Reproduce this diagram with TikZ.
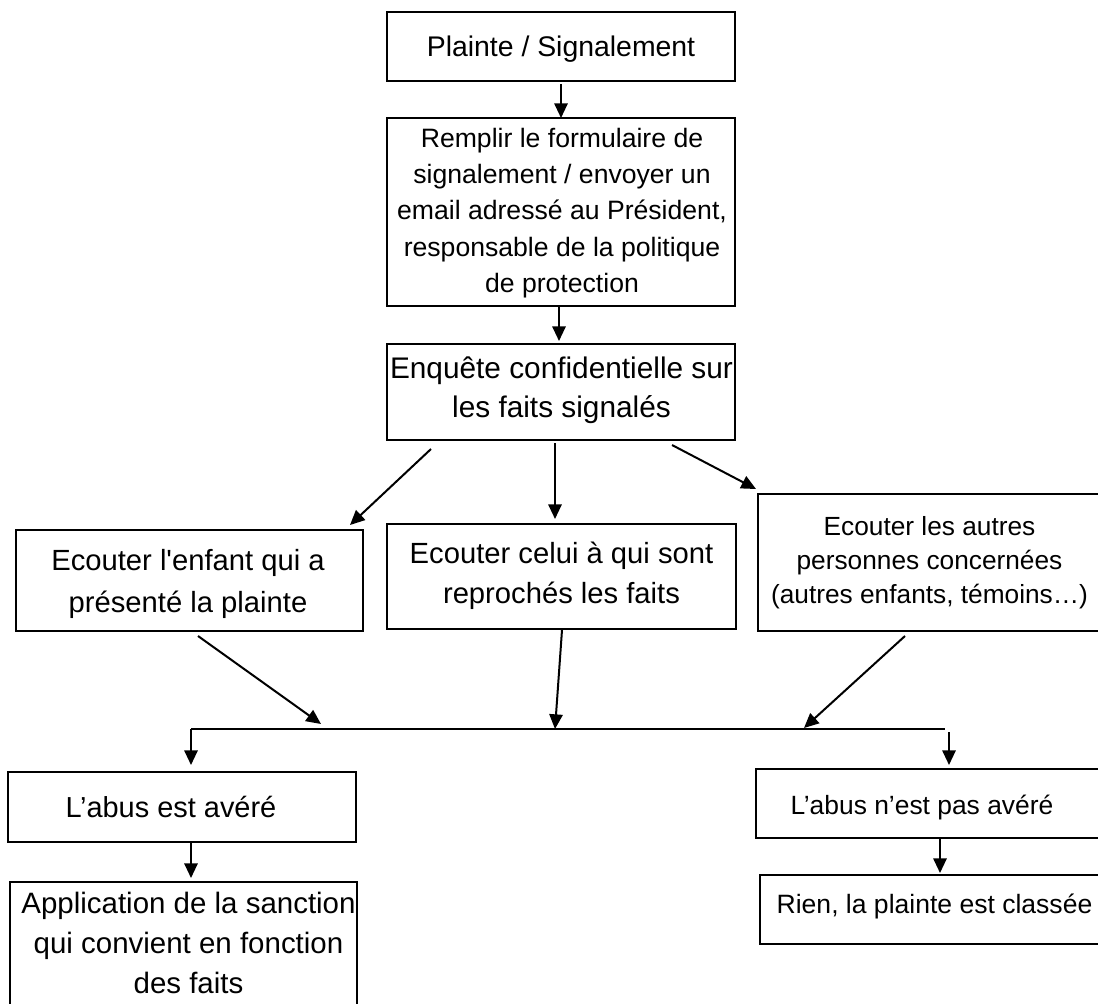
\documentclass[tikz,border=0pt]{standalone}
\usepackage{fontspec}
\setmainfont{Liberation Sans}
\usetikzlibrary{arrows.meta,fit}
\begin{document}
\begin{tikzpicture}[x=0.75pt,y=-0.75pt,
  box/.style={draw=black, line width=1.3pt, inner sep=0pt},
  txt/.style={inner sep=0pt, anchor=north, align=center},
  arr/.style={line width=1.5pt, -{Triangle[length=11pt,width=10pt]}},
  ln/.style={line width=1.5pt}]
\useasboundingbox (0,0) rectangle (1098,1003);
\clip (0,0) rectangle (1098,1003);
% boxes
\node[box, fit={(387,12)(735,81)}] (b1) {};
\node[box, fit={(387,118)(735,306)}] (b2) {};
\node[box, fit={(387,344)(735,440)}] (b3) {};
\node[box, fit={(16,530)(363,631)}] (b4) {};
\node[box, fit={(387,524)(736,629)}] (b5) {};
\node[box, fit={(758,494)(1110,631)}] (b6) {};
\node[box, fit={(8,772)(356,842)}] (b7) {};
\node[box, fit={(10,882)(357,1012)}] (b8) {};
\node[box, fit={(756,769)(1110,838)}] (b9) {};
\node[box, fit={(760,875)(1110,944)}] (b10) {};
% texts
\node[txt, font=\fontsize{21.3pt}{25.5pt}\selectfont] (t1) at (561,32.2) {\strut Plainte / Signalement};
\node[txt, font=\fontsize{19.95pt}{27.2pt}\selectfont] (t2) at (562,121.6) {\strut Remplir le formulaire de\\\strut signalement / envoyer un\\\strut email adressé au Président,\\\strut responsable de la politique\\\strut de protection};
\node[txt, font=\fontsize{22.35pt}{29.25pt}\selectfont] (t3) at (561.5,350.7) {\strut Enquête confidentielle sur\\\strut les faits signalés};
\node[txt, font=\fontsize{21.9pt}{31.5pt}\selectfont] (t4) at (188,540.6) {\strut Ecouter l\textquotesingle enfant qui a\\\strut présenté la plainte};
\node[txt, font=\fontsize{21.9pt}{30pt}\selectfont] (t5) at (561.5,535) {\strut Ecouter celui à qui sont\\\strut reprochés les faits};
\node[txt, font=\fontsize{19.7pt}{25.5pt}\selectfont] (t6) at (929.5,511.2) {\strut Ecouter les autres\\\strut personnes concernées\\\strut (autres enfants, témoins…)};
\node[txt, font=\fontsize{21.7pt}{26pt}\selectfont] (t7) at (171,792.7) {\strut L’abus est avéré};
\node[txt, font=\fontsize{22.1pt}{30pt}\selectfont] (t8) at (188.5,885) {\strut Application de la sanction\\\strut qui convient en fonction\\\strut des faits};
\node[txt, font=\fontsize{19.8pt}{23.8pt}\selectfont] (t9) at (922,791.8) {\strut L’abus n’est pas avéré};
\node[txt, font=\fontsize{19.9pt}{23.9pt}\selectfont] (t10) at (934.5,890.7) {\strut Rien, la plainte est classée};
% connector end points
\coordinate (a1s) at (561,84);  \coordinate (a1e) at (561,118);
\coordinate (a2s) at (559,306); \coordinate (a2e) at (559,341);
\coordinate (a3s) at (431,449); \coordinate (a3e) at (350,525);
\coordinate (a4s) at (555,443); \coordinate (a4e) at (555,519);
\coordinate (a5s) at (672,445); \coordinate (a5e) at (756,489);
\coordinate (a6s) at (198,636); \coordinate (a6e) at (321,724);
\coordinate (a7s) at (562,630); \coordinate (a7e) at (555,729);
\coordinate (a8s) at (905,636); \coordinate (a8e) at (804,728);
\coordinate (hl) at (191,729);  \coordinate (hr) at (945,729);
\coordinate (a9e) at (191,765);
\coordinate (a10s) at (949,732); \coordinate (a10e) at (949,765);
\coordinate (a11s) at (191,843); \coordinate (a11e) at (191,878);
\coordinate (a12s) at (940,838); \coordinate (a12e) at (940,873);
% connectors
\draw[arr] (a1s) -- (a1e);
\draw[arr] (a2s) -- (a2e);
\draw[arr] (a3s) -- (a3e);
\draw[arr] (a4s) -- (a4e);
\draw[arr] (a5s) -- (a5e);
\draw[arr] (a6s) -- (a6e);
\draw[arr] (a7s) -- (a7e);
\draw[arr] (a8s) -- (a8e);
\draw[ln] (hl) -- (hr);
\draw[arr] (hl) -- (a9e);
\draw[arr] (a10s) -- (a10e);
\draw[arr] (a11s) -- (a11e);
\draw[arr] (a12s) -- (a12e);
\end{tikzpicture}
\end{document}
